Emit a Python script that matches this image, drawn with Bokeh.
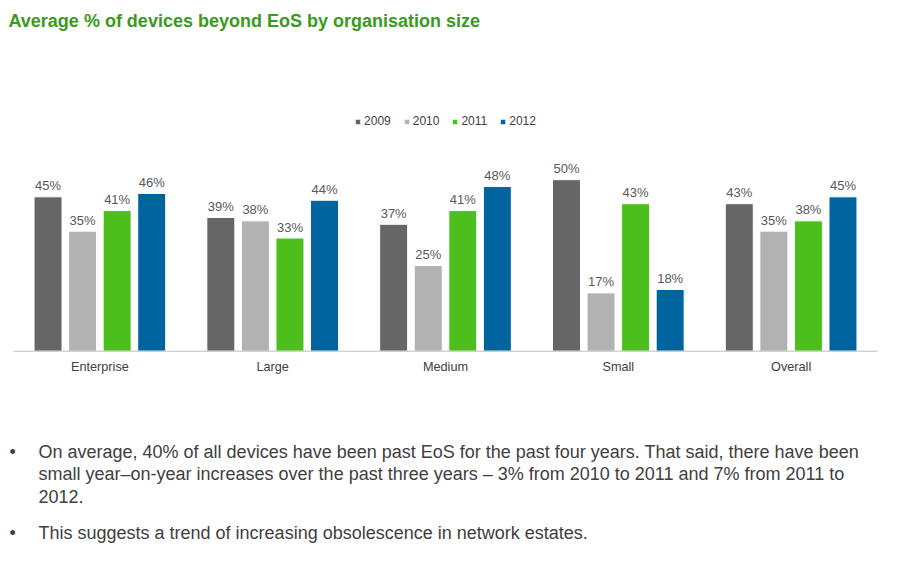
from bokeh.plotting import figure
from bokeh.models import ColumnDataSource, FactorRange, Range1d, Legend, LegendItem, Label
from bokeh.transform import dodge
from bokeh.embed import file_html
from bokeh.resources import INLINE
from bokeh.core.properties import value

# ---- data ----
categories = ["Enterprise", "Large", "Medium", "Small", "Overall"]
years = ["2009", "2010", "2011", "2012"]
v2009 = [45, 39, 37, 50, 43]
v2010 = [35, 38, 25, 17, 35]
v2011 = [41, 33, 41, 43, 38]
v2012 = [46, 44, 48, 18, 45]
series = [v2009, v2010, v2011, v2012]
colors = ["#666666", "#b2b2b2", "#4dbf1d", "#00659e"]
title_text = "Average % of devices beyond EoS by organisation size"
bullet_lines = [
    "On average, 40% of all devices have been past EoS for the past four years. That said, there have been",
    "small year\u2013on-year increases over the past three years \u2013 3% from 2010 to 2011 and 7% from 2011 to",
    "2012.",
    "This suggests a trend of increasing obsolescence in network estates.",
]
bullet_starts = [True, False, False, True]

FONT = "Liberation Sans"
W, H = 890, 555

# ---- figure (frame covers whole canvas) ----
p = figure(x_range=FactorRange(factors=categories, range_padding=0.075,
                               range_padding_units="absolute"),
           y_range=Range1d(-59.56, 102.24),
           width=W, height=H, output_backend="svg", toolbar_location=None,
           min_border=0, x_axis_location=None, y_axis_location=None)
p.outline_line_color = None
p.xgrid.grid_line_color = None
p.ygrid.grid_line_color = None
p.background_fill_color = "white"
p.border_fill_color = "white"

offsets = [-0.3, -0.1, 0.1, 0.3]
renderers = []
for yr, vals, col, off in zip(years, series, colors, offsets):
    src = ColumnDataSource(dict(x=categories, y=vals, t=[f"{v}%" for v in vals]))
    r = p.vbar(x=dodge("x", off, range=p.x_range), top="y", width=0.162, source=src,
               fill_color=col, line_color="white", line_width=1)
    renderers.append(r)
    p.text(x=dodge("x", off, range=p.x_range), y="y", text="t", source=src,
           text_align="center", text_baseline="middle", y_offset=-11,
           text_font=value(FONT), text_font_size="13px", text_color="#595959")

# category axis line spanning the factor range, and category labels
p.segment(x0=[0], x1=[len(categories)], y0=[0], y1=[0], line_color="#bfbfbf", line_width=1)
p.text(x=categories, y=[0] * len(categories), text=categories, y_offset=16,
       text_align="center", text_baseline="middle",
       text_font=value(FONT), text_font_size="12.7px", text_color="#404040")

legend = Legend(items=[LegendItem(label=yr, renderers=[r]) for yr, r in zip(years, renderers)],
                location="top_center", orientation="horizontal",
                glyph_width=7, glyph_height=7, label_standoff=3, spacing=12,
                padding=0, margin=114, label_height=12,
                label_text_font=FONT, label_text_font_size="12px", label_text_color="#404040",
                border_line_color=None, background_fill_alpha=0)
p.add_layout(legend)

p.add_layout(Label(x=8, y=H - 20, x_units="screen", y_units="screen", text=title_text,
                   text_font=FONT, text_font_size="18px", text_font_style="bold",
                   text_color="#3a9a1c", text_baseline="middle"))

line_centers = [451.3, 473.8, 496.3, 532.0]
for txt, yc, is_start in zip(bullet_lines, line_centers, bullet_starts):
    p.add_layout(Label(x=38, y=H - yc, x_units="screen", y_units="screen", text=txt,
                       text_font=FONT, text_font_size="18px", text_color="#404040",
                       text_baseline="middle"))
    if is_start:
        p.add_layout(Label(x=9, y=H - yc, x_units="screen", y_units="screen", text="\u2022",
                           text_font=FONT, text_font_size="18px", text_color="#404040",
                           text_baseline="middle"))

open("out.html", "w").write(file_html(p, INLINE))
